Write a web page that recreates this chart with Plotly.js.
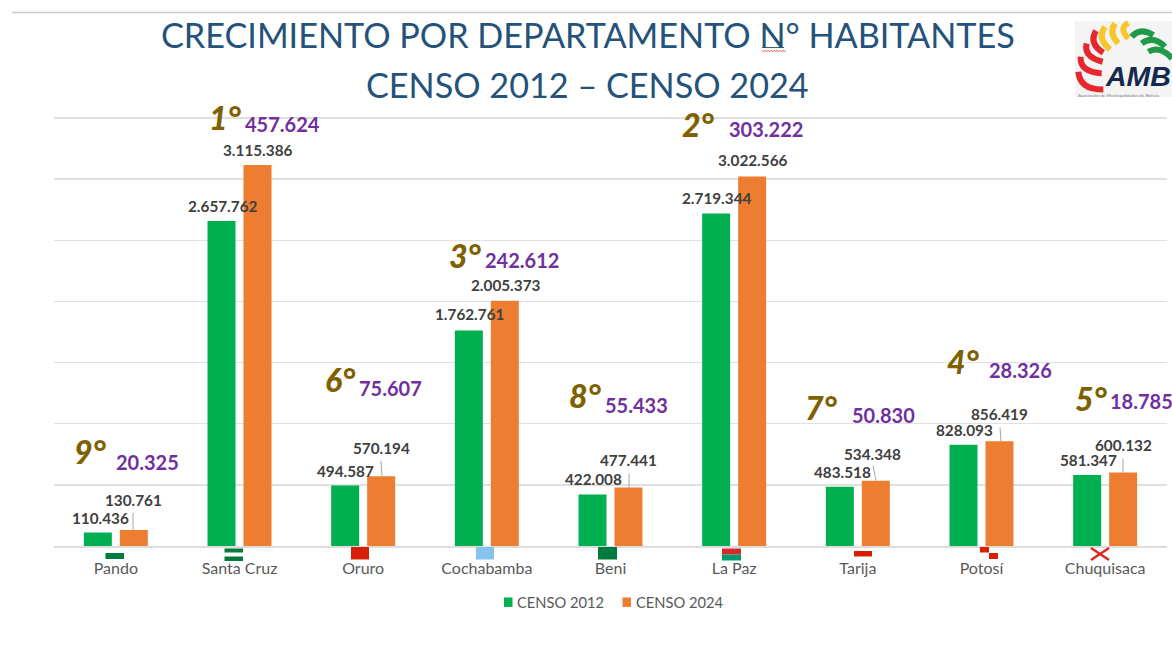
<!DOCTYPE html>
<html>
<head>
<meta charset="utf-8">
<script src="https://cdn.plot.ly/plotly-3.0.1.min.js"></script>
<style>html,body{margin:0;padding:0;background:#fff}#c{width:1172px;height:665px}</style>
</head>
<body>
<div id="c"></div>
<script>
var categories = ["Pando","Santa Cruz","Oruro","Cochabamba","Beni","La Paz","Tarija","Potosí","Chuquisaca"];
var censo2012 = [110436,2657762,494587,1762761,422008,2719344,483518,828093,581347];
var censo2024 = [130761,3115386,570194,2005373,477441,3022566,534348,856419,600132];
var growth = [20325,457624,75607,242612,55433,303222,50830,28326,18785];
var ranks = [9,1,6,3,8,2,7,4,5];
var tickValues = [0,500000,1000000,1500000,2000000,2500000,3000000,3500000];

function fmt(v){return String(v).replace(/\B(?=(\d{3})+$)/g,'.');}
var W=1172,H=665,L=54,R=1167,T=114,B=546.5;

// label placement (label centre, page px)
var lab12=[[100,518],[222,206],[345,471],[469.5,314],[593.5,479],[717,198],[842,472],[964,430],[1088,460]];
var lab24=[[133,500],[257,150],[381,448],[505,285],[628.5,460],[752,160],[873,454],[999,414],[1123,445]];
var rankPos=[[90,452],[225,118],[340,380],[465,256],[585.5,396],[698,125],[821,408],[963,362],[1091,399]];
var growthPos=[[147,462],[282,124],[390,388],[522,260],[636,405],[766,129],[883,415],[1020,370],[1141,401]];

function xp(x){return (x-L)/(R-L);}
function yp(y){return (B-y)/(B-T);}

var annotations=[];
function page(x,y,text,font){
  annotations.push({xref:'paper',yref:'paper',x:xp(x),y:yp(y),text:text,showarrow:false,font:font,xanchor:'center',yanchor:'middle'});
}
var labFont={family:'Lato, sans-serif',size:15.3,color:'#404040',weight:700};
categories.forEach(function(c,i){
  page(lab12[i][0],lab12[i][1],fmt(censo2012[i]),labFont);
  page(lab24[i][0],lab24[i][1],fmt(censo2024[i]),labFont);
  page(rankPos[i][0],rankPos[i][1],ranks[i]+'°',{family:'Lato, sans-serif',size:32,color:'#7f6000',weight:900,style:'italic'});
  page(growthPos[i][0],growthPos[i][1],fmt(growth[i]),{family:'Lato, sans-serif',size:20,color:'#7030a0',weight:700});
});
var titleFont={family:'Lato, sans-serif',size:34.2,color:'#24527a'};
page(587.5,34,'CRECIMIENTO POR DEPARTAMENTO N° HABITANTES',titleFont);
page(587,84,'CENSO 2012 – CENSO 2024',titleFont);

var shapes=[];
function pageRect(x0,y0,x1,y1,col,layer){shapes.push({type:'rect',xref:'paper',yref:'paper',x0:xp(x0),x1:xp(x1),y0:yp(y0),y1:yp(y1),fillcolor:col,line:{width:0},layer:layer||'above'});}
function pageLine(x0,y0,x1,y1,col,w){shapes.push({type:'line',xref:'paper',yref:'paper',x0:xp(x0),x1:xp(x1),y0:yp(y0),y1:yp(y1),line:{color:col,width:w},layer:'above'});}
function curve(p,col,w){
  shapes.push({type:'path',xref:'paper',yref:'paper',layer:'above',line:{color:col,width:w},
    path:'M'+xp(p[0])+','+yp(p[1])+' Q'+xp(p[2])+','+yp(p[3])+' '+xp(p[4])+','+yp(p[5])});
}
// top rule
pageLine(12,12.5,1172,12.5,'#c9c9c9',1.5);
// spell-check squiggle and underline in the title
pageLine(762,47.5,784,47.5,'#2f5578',1);
[762,765,768,771,774,777,780,783].forEach(function(x){
  pageLine(x,50,x+1.5,52,'#e2584f',0.8);pageLine(x+1.5,52,x+3,50,'#e2584f',0.8);
});
// leader lines
var leaderPts=[[133,513,133,531],null,[381,461,382,477],null,[629,474,629,488],null,[873,466,876,481],[1000,428,1001,442],[1123,459,1123,473]];
leaderPts.forEach(function(p){if(p)pageLine(p[0],p[1],p[2],p[3],'#a6a6a6',1);});
// flags
pageRect(105.5,553.5,124,559.5,'#007a3d');
pageRect(224.5,549,243,553,'#007a3d');pageRect(224.5,557,243,561.5,'#007a3d');
pageRect(351,547.5,369,560,'#d81e05');
pageRect(476,547.5,494,560,'#85c4ee');
pageRect(598,547.5,617,560,'#007a3d');
pageRect(722,549,741,555,'#d52b2b');pageRect(722,555,741,561,'#009a6e');
pageRect(854,551.5,872,557,'#d81e05');
pageRect(980,547.5,989,553,'#d81e05');pageRect(989,553.5,998,559.5,'#d81e05');
pageLine(1091,548.5,1109,560.5,'#e0261a',2.4);pageLine(1109,548.5,1091,560.5,'#e0261a',2.4);

// legend
var legendColors=['#00b050','#ed7d31'];
var legendNames=['CENSO 2012','CENSO 2024'];
var legendSwatch=[504,622.5],legendText=[560.5,680];
legendNames.forEach(function(n,i){
  pageRect(legendSwatch[i],598,legendSwatch[i]+8.5,607.5,legendColors[i]);
  page(legendText[i],603,n,{family:'Lato, sans-serif',size:14.7,color:'#595959'});
});

// logo
pageRect(1075,21,1172,97,'#f4f4f4');
function lx(z){return 1060+z/3;}
function ly(z){return 10+z/3;}
function feather(a,col){curve([lx(a[0]),ly(a[1]),lx(a[2]),ly(a[3]),lx(a[4]),ly(a[5])],col,6);}
[[108,62,85,100,130,128],[80,100,70,140,128,155],[62,140,58,185,125,190],[55,185,60,240,130,238]].forEach(function(a){feather(a,'#e8262d');});
[[135,50,110,85,150,118],[165,40,145,70,175,100],[205,38,175,55,205,85]].forEach(function(a){feather(a,'#f8c52d');});
[[215,80,240,50,280,75],[245,100,280,75,315,110],[265,125,300,105,336,145]].forEach(function(a){feather(a,'#1f9a45');});
page(1138,76,'AMB',{family:'"Liberation Sans", sans-serif',size:28.5,color:'#14294f',weight:700,style:'italic'});
page(1118,95.5,'Asociación de Municipalidades de Bolivia',{family:'Lato, sans-serif',size:4.5,color:'#7a7a8c'});

var traces=[
 {type:'bar',name:'CENSO 2012',x:categories,y:censo2012,marker:{color:legendColors[0]},hoverinfo:'none'},
 {type:'bar',name:'CENSO 2024',x:categories,y:censo2024,marker:{color:legendColors[1]},hoverinfo:'none'}
];
var layout={
 width:W,height:H,autosize:false,showlegend:false,
 paper_bgcolor:'#fff',plot_bgcolor:'#fff',
 margin:{l:L,r:W-R,t:T,b:H-B,pad:0},
 barmode:'group',bargap:0.418,bargroupgap:0.222,
 font:{family:'Lato, sans-serif',color:'#595959'},
 xaxis:{type:'category',tickfont:{size:16,color:'#595959',family:'Lato, sans-serif'},ticks:'outside',ticklen:7,tickcolor:'rgba(0,0,0,0)',showline:true,linecolor:'#dcdcdc',linewidth:1.5,showgrid:false,automargin:false},
 yaxis:{range:[0,3532700],tickvals:tickValues,showticklabels:false,ticks:'',showgrid:true,gridcolor:'#e0e0e0',gridwidth:1.5,zeroline:false,automargin:false},
 annotations:annotations,shapes:shapes
};
Plotly.newPlot('c',traces,layout,{displayModeBar:false,staticPlot:true});
</script>
</body>
</html>
